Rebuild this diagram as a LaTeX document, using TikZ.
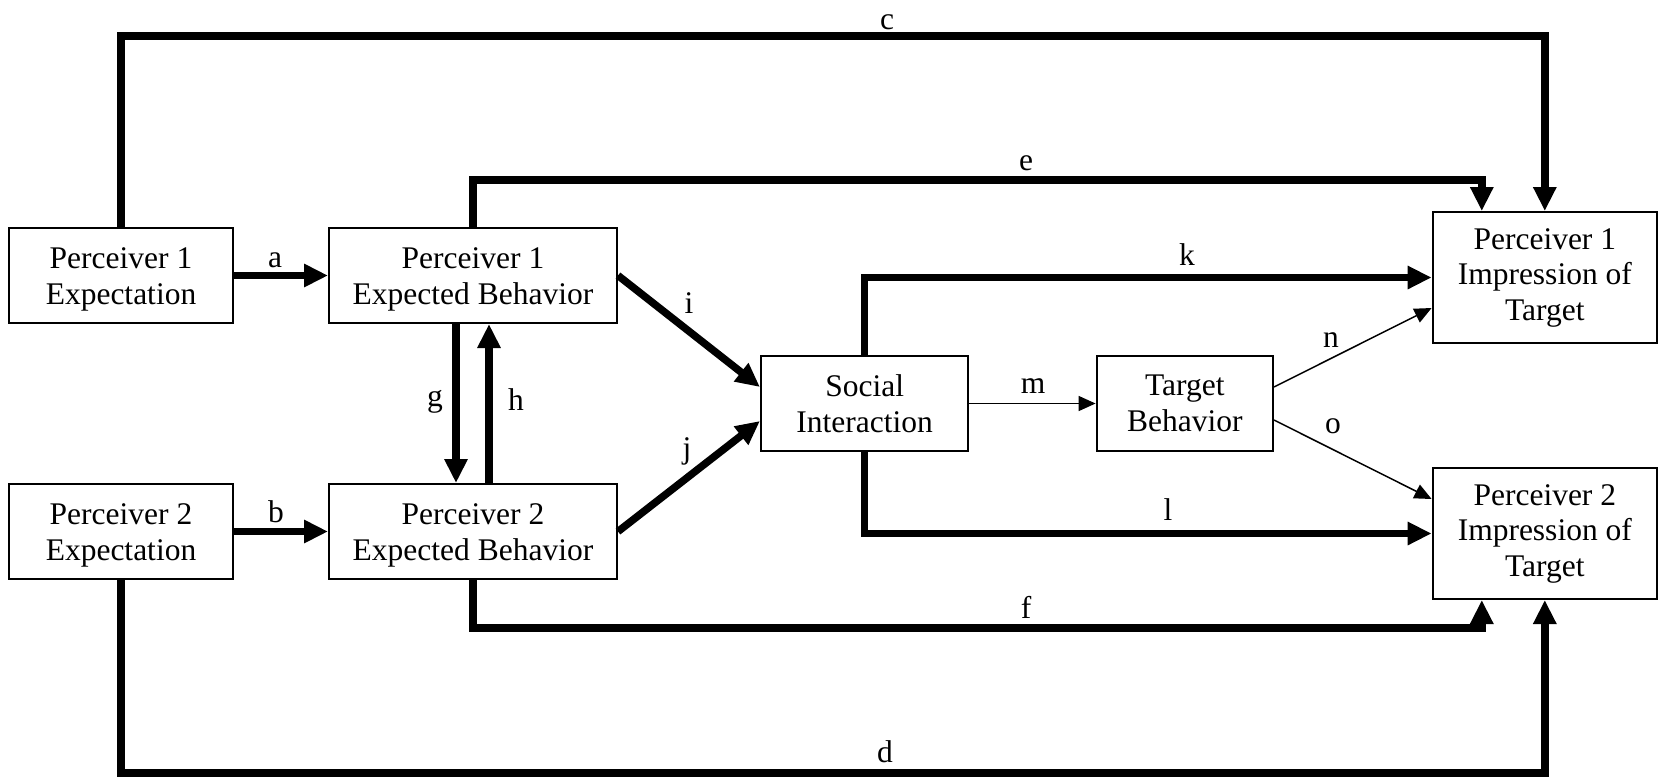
\documentclass[tikz,border=0pt]{standalone}
\usepackage{fontspec}
\setmainfont{Liberation Serif}
\usetikzlibrary{arrows.meta,calc}
\newcommand{\topstrut}{\rule{0pt}{14.2pt}}
\begin{document}
\begin{tikzpicture}[x=0.5pt,y=-0.5pt,
  box/.style={draw, line width=1pt, rectangle, align=center, inner sep=0pt, font=\fontsize{15.75}{17.75}\selectfont},
  lab/.style={anchor=base, inner sep=0pt, font=\fontsize{15.75}{17.75}\selectfont},
  thickarr/.style={line width=3.75pt, line join=miter, -{Triangle[length=12pt,width=11pt]}},
  thinarr/.style={line width=0.75pt, -{Triangle[length=8.5pt,width=7.5pt]}}]
\useasboundingbox (0,0) rectangle (1659,778);
% boxes
\node[box, minimum width=112pt, minimum height=47.5pt] (p1e) at (121,275.5) {\topstrut Perceiver 1\\Expectation};
\node[box, minimum width=144pt, minimum height=47.5pt] (p1eb) at (473,275.5) {\topstrut Perceiver 1\\Expected Behavior};
\node[box, minimum width=112pt, minimum height=47.5pt] (p2e) at (121,531.5) {\topstrut Perceiver 2\\Expectation};
\node[box, minimum width=144pt, minimum height=47.5pt] (p2eb) at (473,531.5) {\topstrut Perceiver 2\\Expected Behavior};
\node[box, minimum width=103.75pt, minimum height=47.5pt] (si) at (864.7,403.5) {Social\\Interaction};
\node[box, minimum width=88.2pt, minimum height=47.5pt] (tb) at (1184.8,403.5) {Target\\Behavior};
\node[box, minimum width=112.2pt, minimum height=65.5pt] (p1i) at (1544.8,277.5) {Perceiver 1\\Impression of\\Target};
\node[box, minimum width=112.2pt, minimum height=65.5pt] (p2i) at (1544.8,533.5) {Perceiver 2\\Impression of\\Target};
% helper coordinates
\coordinate (ctop) at (0,36);
\coordinate (etop) at (0,180);
\coordinate (fbot) at (0,628);
\coordinate (dbot) at (0,773);
\coordinate (p1ie) at ([xshift=-31.5pt]p1i.north);
\coordinate (p2if) at ([xshift=-31.5pt]p2i.south);
% connectors
\draw[thickarr] (p1e.east) -- (p1eb.west);
\draw[thickarr] (p2e.east) -- (p2eb.west);
\draw[thickarr] (p1e.north) -- (p1e.north |- ctop) -- (p1i.north |- ctop) -- (p1i.north);
\draw[thickarr] (p2e.south) -- (p2e.south |- dbot) -- (p2i.south |- dbot) -- (p2i.south);
\draw[thickarr] (p1eb.north) -- (p1eb.north |- etop) -- (p1ie |- etop) -- (p1ie);
\draw[thickarr] (p2eb.south) -- (p2eb.south |- fbot) -- (p2if |- fbot) -- (p2if);
\draw[thickarr] ([xshift=-8.5pt]p1eb.south) -- ([xshift=-8.5pt]p2eb.north);
\draw[thickarr] ([xshift=8pt]p2eb.north) -- ([xshift=8pt]p1eb.south);
\draw[thickarr] (p1eb.east) -- ([yshift=8.25pt]si.west);
\draw[thickarr] (p2eb.east) -- ([yshift=-8.75pt]si.west);
\draw[thickarr] (si.north) |- (p1i.west);
\draw[thickarr] (si.south) |- (p2i.west);
\draw[thinarr] (si.east) -- (tb.west);
\draw[thinarr] ([yshift=8.25pt]tb.east) -- ([yshift=-15.25pt]p1i.west);
\draw[thinarr] ([yshift=-8.25pt]tb.east) -- ([yshift=17.25pt]p2i.west);
% labels
\node[lab] (la) at (275,267) {a};
\node[lab] (lb) at (276,522) {b};
\node[lab] (lc) at (887,29) {c};
\node[lab] (ld) at (885,762) {d};
\node[lab] (le) at (1026,170) {e};
\node[lab] (lf) at (1026,618) {f};
\node[lab] (lg) at (435,406) {g};
\node[lab] (lh) at (516,410) {h};
\node[lab] (li) at (689,313) {i};
\node[lab] (lj) at (687,458) {j};
\node[lab] (lk) at (1187,265) {k};
\node[lab] (ll) at (1168,520) {l};
\node[lab] (lm) at (1033,393) {m};
\node[lab] (ln) at (1331,347) {n};
\node[lab] (lo) at (1333,433) {o};
\end{tikzpicture}
\end{document}
